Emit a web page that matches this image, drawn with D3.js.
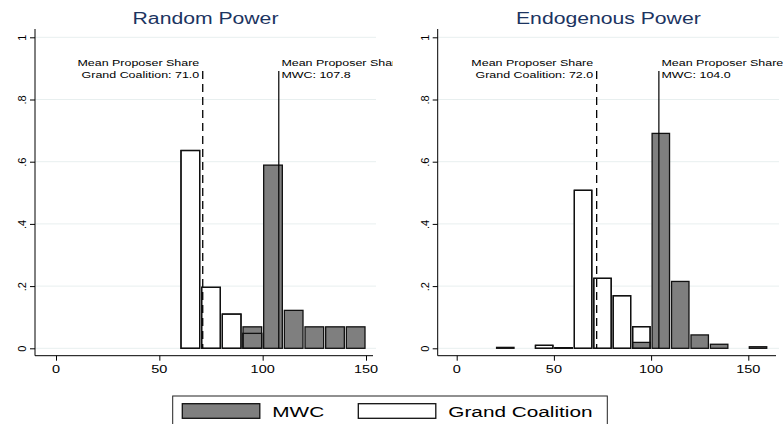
<!DOCTYPE html>
<html>
<head>
<meta charset="utf-8">
<script src="https://cdn.jsdelivr.net/npm/d3@7/dist/d3.min.js"></script>
<style>
  body { margin: 0; background: #fff; }
  svg { display: block; font-family: "Liberation Sans", Arial, sans-serif; }
</style>
</head>
<body>
<script>
var panelTitles = ["Random Power", "Endogenous Power"];
var xTicks = [0, 50, 100, 150];
var yTicks = [0, 0.2, 0.4, 0.6, 0.8, 1];
var yTickLabels = ["0", ".2", ".4", ".6", ".8", "1"];

var gcBinsRandom = [60, 70, 80, 90];
var gcFracRandom = [0.636, 0.196, 0.110, 0.048];
var mwcBinsRandom = [90, 100, 110, 120, 130, 140];
var mwcFracRandom = [0.069, 0.589, 0.122, 0.069, 0.069, 0.069];

var gcBinsEndog = [40, 50, 60, 70, 80, 90];
var gcFracEndog = [0.0095, 0.002, 0.508, 0.225, 0.169, 0.0695];
var mwcBinsEndog = [20, 90, 100, 110, 120, 130, 150];
var mwcFracEndog = [0.003, 0.019, 0.691, 0.215, 0.043, 0.013, 0.005];

var meanGC = [71.0, 72.0];
var meanMWC = [107.8, 104.0];
var legendLabels = ["MWC", "Grand Coalition"];

var binWidth = 10;
var SX = 1.34; // the original export is stretched horizontally

var width = 783, height = 424;
var svg = d3.select('body').append('svg')
            .attr('width', width)
            .attr('height', height);

var panels = [
  {left: 35, right: 376, clipR: 393, xr: [56, 366], gcB: gcBinsRandom, gcF: gcFracRandom, mwcB: mwcBinsRandom, mwcF: mwcFracRandom},
  {left: 437.7, right: 779, clipR: 783, xr: [456.7, 748.3], gcB: gcBinsEndog, gcF: gcFracEndog, mwcB: mwcBinsEndog, mwcF: mwcFracEndog}
];
var plotTop = 29, axisY = 355.7;

var y = d3.scaleLinear().domain([0, 1]).range([348.3, 37.3]);

function stretched(sel, x, yy) {
  return sel.attr('transform', 'translate(' + x + ',' + yy + ') scale(' + SX + ',1)');
}

panels.forEach(function(p, i) {
  var x = d3.scaleLinear().domain([0, 150]).range(p.xr);
  var g = svg.append('g');

  var clipId = 'clip' + i;
  svg.append('clipPath').attr('id', clipId)
     .append('rect').attr('x', p.left).attr('y', 0)
     .attr('width', p.clipR - p.left).attr('height', height);

  // gridlines
  g.selectAll('.grid').data(yTicks).enter().append('line')
   .attr('x1', p.left).attr('x2', p.right)
   .attr('y1', function(d){ return y(d); }).attr('y2', function(d){ return y(d); })
   .attr('stroke', '#e8efef').attr('stroke-width', 1);

  // y axis
  var yAxis = d3.axisLeft(y).tickValues(yTicks).tickSize(5)
                .tickFormat(function(d, k){ return yTickLabels[k]; });
  var ya = g.append('g').attr('transform', 'translate(' + p.left + ',0)').call(yAxis);
  ya.select('.domain').remove();
  ya.selectAll('.tick line').attr('stroke', '#000');
  ya.selectAll('.tick text')
    .attr('x', null).attr('dy', null)
    .attr('transform', 'translate(-9,0) rotate(-90)')
    .attr('text-anchor', 'middle')
    .attr('font-size', 11).attr('fill', '#000')
    .attr('font-family', '"Liberation Sans", Arial, sans-serif');
  g.append('line').attr('x1', p.left).attr('x2', p.left)
   .attr('y1', plotTop).attr('y2', axisY).attr('stroke', '#000');

  // x axis
  var xAxis = d3.axisBottom(x).tickValues(xTicks).tickSize(5).tickFormat('');
  var xa = g.append('g').attr('transform', 'translate(0,' + axisY + ')').call(xAxis);
  xa.select('.domain').remove();
  xa.selectAll('.tick line').attr('stroke', '#000');
  g.append('line').attr('x1', p.left).attr('x2', p.right - 3)
   .attr('y1', axisY).attr('y2', axisY).attr('stroke', '#000');
  xTicks.forEach(function(t) {
    stretched(g.append('text'), x(t), 373)
      .attr('text-anchor', 'middle').attr('font-size', 10.8).text(t);
  });

  // title
  stretched(g.append('text'), (p.left + p.right) / 2, 23.5)
    .attr('text-anchor', 'middle').attr('font-size', 15.8)
    .attr('fill', '#1c3461').text(panelTitles[i]);

  var gcData = p.gcB.map(function(b, k){ return {x0: b, v: p.gcF[k]}; });
  var mwcData = p.mwcB.map(function(b, k){ return {x0: b, v: p.mwcF[k]}; });

  function bars(sel, data, fill) {
    return sel.selectAll('rect').data(data).enter().append('rect')
      .attr('x', function(d){ return x(d.x0) + 1; })
      .attr('width', function(d){ return x(d.x0 + binWidth) - x(d.x0) - 2; })
      .attr('y', function(d){ return y(d.v); })
      .attr('height', function(d){ return y(0) - y(d.v); })
      .attr('fill', fill).attr('stroke', '#111').attr('stroke-width', 1.3);
  }
  bars(g.append('g'), gcData, '#fff');
  bars(g.append('g'), mwcData, '#7f7f7f');
  bars(g.append('g'), gcData, 'none');

  // mean lines
  var lineTop = 71;
  g.append('line').attr('x1', x(meanGC[i])).attr('x2', x(meanGC[i]))
   .attr('y1', lineTop).attr('y2', y(0))
   .attr('stroke', '#000').attr('stroke-width', 1.3).attr('stroke-dasharray', '8,5');
  g.append('line').attr('x1', x(meanMWC[i])).attr('x2', x(meanMWC[i]))
   .attr('y1', lineTop).attr('y2', y(0))
   .attr('stroke', '#000').attr('stroke-width', 1.2);

  // annotations
  var ann = g.append('g').attr('clip-path', 'url(#' + clipId + ')');
  var gcLines = ['Mean Proposer Share', 'Grand Coalition: ' + meanGC[i].toFixed(1)];
  var mwcLines = ['Mean Proposer Share', 'MWC: ' + meanMWC[i].toFixed(1)];
  gcLines.forEach(function(s, k) {
    stretched(ann.append('text'), x(meanGC[i]) - 3.5, 66 + k * 12.4)
      .attr('text-anchor', 'end').attr('font-size', 9.3).text(s);
  });
  mwcLines.forEach(function(s, k) {
    stretched(ann.append('text'), x(meanMWC[i]) + 2.6, 66 + k * 12.4)
      .attr('text-anchor', 'start').attr('font-size', 9.3).text(s);
  });
});

// legend
var leg = svg.append('g');
leg.append('rect').attr('x', 172.7).attr('y', 396).attr('width', 434.6).attr('height', 40)
   .attr('fill', '#fff').attr('stroke', '#222').attr('stroke-width', 1);
var legFill = ['#7f7f7f', '#fff'];
var legX = [182.3, 358.3];
legendLabels.forEach(function(s, k) {
  leg.append('rect').attr('x', legX[k]).attr('y', 403.7).attr('width', 77.5).attr('height', 14.6)
     .attr('fill', legFill[k]).attr('stroke', '#111').attr('stroke-width', 1.3);
  stretched(leg.append('text'), legX[k] + 90, 416.5)
     .attr('font-size', 15.5).text(s);
});
</script>
</body>
</html>
